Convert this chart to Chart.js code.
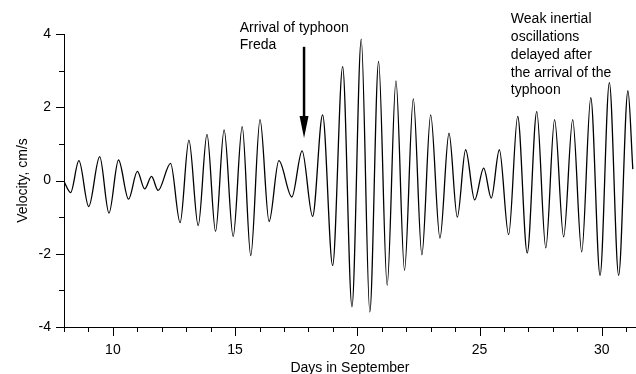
<!DOCTYPE html>
<html lang="en">
<head>
<meta charset="UTF-8">
<title>Velocity, Days in September</title>
<script src="https://cdn.jsdelivr.net/npm/chart.js"></script>
<style>
body { margin: 0; background: #fff; }
canvas { display: block; }
</style>
</head>
<body>
<canvas id="velChart" width="636" height="374"></canvas>

<script>
// days and velocity at each crest / trough of the record
const days = [8.00, 8.27, 8.61, 9.01, 9.46, 9.84, 10.23, 10.64, 11.00, 11.30, 11.58, 11.85,
  12.36, 12.75, 13.11, 13.49, 13.85, 14.20, 14.55, 14.92, 15.29, 15.64, 16.02, 16.39,
  16.79, 17.32, 17.74, 18.17, 18.58, 18.99, 19.40, 19.78, 20.16, 20.51, 20.87, 21.22,
  21.58, 21.93, 22.29, 22.64, 23.00, 23.38, 23.75, 24.09, 24.43, 24.80, 25.17, 25.48,
  25.81, 26.19, 26.56, 26.95, 27.34, 27.71, 28.07, 28.44, 28.81, 29.18, 29.55, 29.93,
  30.31, 30.69, 31.07, 31.27];
const velocity = [-0.03, -0.33, 0.54, -0.71, 0.65, -0.89, 0.56, -0.51, 0.25, -0.23, 0.11, -0.27,
  0.47, -1.15, 1.10, -1.23, 1.26, -1.39, 1.38, -1.53, 1.47, -2.05, 1.66, -1.12,
  0.54, -0.45, 0.81, -0.98, 1.79, -2.32, 3.11, -3.45, 3.86, -3.59, 3.25, -2.86,
  2.72, -2.45, 2.23, -2.03, 1.79, -1.57, 1.29, -1.00, 0.84, -0.53, 0.34, -0.48,
  0.84, -1.48, 1.75, -1.98, 1.88, -1.84, 1.66, -1.54, 1.66, -1.95, 2.26, -2.59,
  2.67, -2.59, 2.45, 0.31];

// axis ticks (every integer is a tick, only some get labels)
const xTicks = [8, 9, 10, 11, 12, 13, 14, 15, 16, 17, 18, 19, 20, 21, 22, 23, 24, 25, 26, 27, 28, 29, 30, 31];
const xLabelled = [10, 15, 20, 25, 30];
const yTicks = [-4, -3, -2, -1, 0, 1, 2, 3, 4];
const yLabelled = [-4, -2, 0, 2, 4];

// annotations
const arrowNote = ['Arrival of typhoon', 'Freda'];
const arrowDay = 17.82;
const arrowFrom = 3.65, arrowTo = 1.16;
const arrowNoteAt = { x: 15.19, y: 4.16 };
const lateNote = ['Weak inertial', 'oscillations', 'delayed after', 'the arrival of the', 'typhoon'];
const lateNoteAt = { x: 26.28, y: 4.40 };

const FONT = "14px 'Liberation Sans', Arial, sans-serif";

// tick marks of two lengths + the text notes
const extras = {
  id: 'extras',
  afterDraw(chart) {
    const ctx = chart.ctx;
    const xs = chart.scales.x, ys = chart.scales.y;
    const area = chart.chartArea;
    ctx.save();
    ctx.strokeStyle = '#000';
    ctx.lineWidth = 1;
    ctx.beginPath();
    xTicks.forEach(v => {
      const px = Math.round(xs.getPixelForValue(v)) + 0.5;
      const len = xLabelled.includes(v) ? 9 : 5;
      ctx.moveTo(px, area.bottom);
      ctx.lineTo(px, area.bottom + len);
    });
    yTicks.forEach(v => {
      const py = Math.round(ys.getPixelForValue(v)) + 0.5;
      const len = yLabelled.includes(v) ? 8 : 5;
      ctx.moveTo(area.left, py);
      ctx.lineTo(area.left - len, py);
    });
    ctx.stroke();

    // arrow
    const ax = xs.getPixelForValue(arrowDay);
    const ay0 = ys.getPixelForValue(arrowFrom);
    const ay1 = ys.getPixelForValue(arrowTo);
    ctx.lineWidth = 2.5;
    ctx.beginPath();
    ctx.moveTo(ax, ay0);
    ctx.lineTo(ax, ay1 - 18);
    ctx.stroke();
    ctx.fillStyle = '#000';
    ctx.beginPath();
    ctx.moveTo(ax - 4.5, ay1 - 22);
    ctx.lineTo(ax + 4.5, ay1 - 22);
    ctx.lineTo(ax, ay1);
    ctx.closePath();
    ctx.fill();

    ctx.font = FONT;
    ctx.textAlign = 'left';
    ctx.textBaseline = 'middle';
    let tx = xs.getPixelForValue(arrowNoteAt.x), ty = ys.getPixelForValue(arrowNoteAt.y);
    arrowNote.forEach((s, i) => ctx.fillText(s, tx, ty + i * 17));
    tx = xs.getPixelForValue(lateNoteAt.x); ty = ys.getPixelForValue(lateNoteAt.y);
    lateNote.forEach((s, i) => ctx.fillText(s, tx, ty + i * 17.8));
    ctx.restore();
  }
};

new Chart(document.getElementById('velChart'), {
  type: 'line',
  data: {
    datasets: [{
      data: days.map((d, i) => ({ x: d, y: velocity[i] })),
      borderColor: '#000',
      borderWidth: 1.3,
      pointRadius: 0,
      fill: false,
      cubicInterpolationMode: 'monotone'
    }]
  },
  options: {
    responsive: false,
    animation: false,
    devicePixelRatio: 1,
    layout: { padding: { top: 34, right: 0, left: 0, bottom: 0 } },
    plugins: { legend: { display: false }, tooltip: { enabled: false } },
    scales: {
      x: {
        type: 'linear',
        min: 8,
        max: 31.4,
        afterBuildTicks: s => { s.ticks = xTicks.map(v => ({ value: v })); },
        afterFit: s => { s.height = 47; },
        grid: { display: true, drawOnChartArea: false, drawTicks: true, tickLength: 9, tickColor: 'rgba(0,0,0,0)' },
        border: { display: true, color: '#000', width: 1 },
        ticks: {
          autoSkip: false, maxRotation: 0, padding: 6, color: '#000',
          font: { family: "'Liberation Sans', Arial, sans-serif", size: 14 },
          callback: v => xLabelled.includes(v) ? String(v) : ''
        },
        title: {
          display: true, text: 'Days in September', color: '#000', padding: { top: 0, bottom: -3 },
          font: { family: "'Liberation Sans', Arial, sans-serif", size: 14 }
        }
      },
      y: {
        min: -4,
        max: 4,
        afterBuildTicks: s => { s.ticks = yTicks.map(v => ({ value: v })); },
        afterFit: s => { s.width = 64; },
        grid: { display: true, drawOnChartArea: false, drawTicks: true, tickLength: 8, tickColor: 'rgba(0,0,0,0)' },
        border: { display: true, color: '#000', width: 1 },
        ticks: {
          autoSkip: false, padding: 5, color: '#000',
          font: { family: "'Liberation Sans', Arial, sans-serif", size: 14 },
          callback: v => yLabelled.includes(v) ? String(v) : ''
        },
        title: {
          display: true, text: 'Velocity, cm/s', color: '#000', padding: { top: 15, bottom: 0 },
          font: { family: "'Liberation Sans', Arial, sans-serif", size: 14 }
        }
      }
    }
  },
  plugins: [extras]
});
</script>
</body>
</html>
